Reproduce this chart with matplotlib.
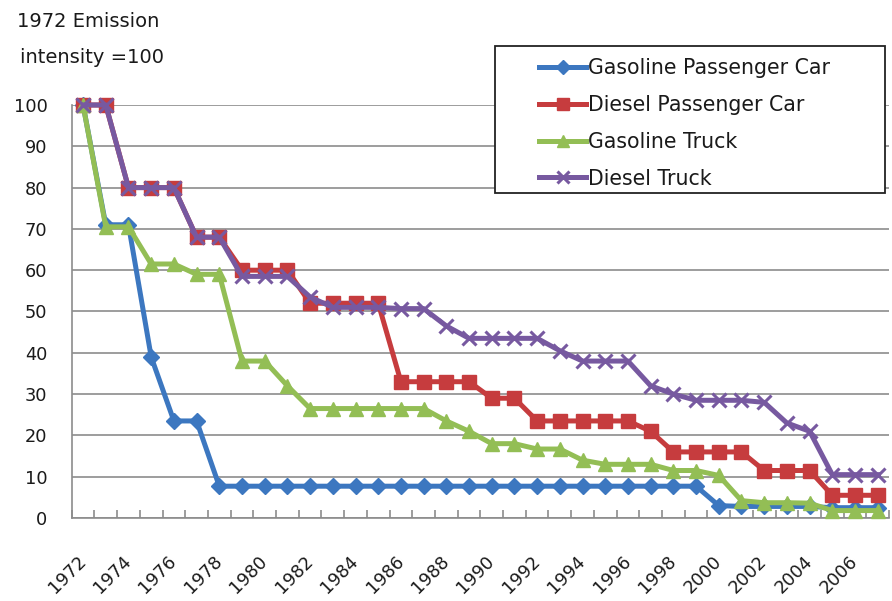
import matplotlib
matplotlib.use("Agg")
import matplotlib.pyplot as plt
from matplotlib.patches import Rectangle

plt.rcParams['font.family'] = ['DejaVu Sans']

years = list(range(1972, 2008))
tick_labels = [str(y) for y in range(1972, 2007, 2)]

gasoline_car = [100, 71, 71, 39, 23.5, 23.5, 7.7, 7.7, 7.7, 7.7,
                7.7, 7.7, 7.7, 7.7, 7.7, 7.7, 7.7, 7.7, 7.7, 7.7,
                7.7, 7.7, 7.7, 7.7, 7.7, 7.7, 7.7, 7.7, 3.0, 2.8,
                2.8, 2.8, 2.8, 2.5, 2.5, 2.5]
diesel_car = [100, 100, 80, 80, 80, 68, 68, 60, 60, 60,
              52, 52, 52, 52, 33, 33, 33, 33, 29, 29,
              23.5, 23.5, 23.5, 23.5, 23.5, 21, 16, 16, 16, 16,
              11.5, 11.5, 11.5, 5.5, 5.5, 5.5]
gasoline_truck = [100, 70.5, 70.5, 61.5, 61.5, 59, 59, 38, 38, 32,
                  26.5, 26.5, 26.5, 26.5, 26.5, 26.5, 23.5, 21, 18, 18,
                  16.7, 16.7, 14, 13, 13, 13, 11.5, 11.5, 10.3, 4.2,
                  3.7, 3.7, 3.6, 1.8, 1.8, 1.8]
diesel_truck = [100, 100, 80, 80, 80, 68, 68, 58.5, 58.5, 58.5,
                53.5, 51, 51, 51, 50.7, 50.7, 46.5, 43.5, 43.5, 43.5,
                43.5, 40.5, 38, 38, 38, 32, 30, 28.5, 28.5, 28.5,
                28, 23, 21, 10.5, 10.5, 10.5]

series_names = ["Gasoline Passenger Car", "Diesel Passenger Car",
                "Gasoline Truck", "Diesel Truck"]

fig = plt.figure(figsize=(8.92, 6.01), dpi=100)
ax = fig.add_axes([0.0804, 0.1381, 0.9163, 0.6872])

x = list(range(len(years)))
styles = [
    dict(color="#3C77C0", marker="D", markersize=8.5),
    dict(color="#C63C3E", marker="s", markersize=10),
    dict(color="#93BE55", marker="^", markersize=10),
    dict(color="#7759A0", marker="x", markersize=10, markeredgewidth=2.2),
]
data = [gasoline_car, diesel_car, gasoline_truck, diesel_truck]
handles = []
for name, vals, st in zip(series_names, data, styles):
    h, = ax.plot(x, vals, linewidth=3.6, label=name, clip_on=False, zorder=3, **st)
    handles.append(h)

ax.set_xlim(-0.5, len(years) - 0.5)
ax.set_ylim(0, 100)
ax.set_yticks(range(0, 101, 10))
ax.yaxis.grid(True, color="#8c8c8c", linewidth=1.2)
ax.set_axisbelow(True)
for s in ["top", "right"]:
    ax.spines[s].set_visible(False)
for s in ["left", "bottom"]:
    ax.spines[s].set_color("#8c8c8c")
    ax.spines[s].set_linewidth(1.2)

ax.tick_params(axis="y", length=0, pad=17.5, labelsize=12.8, labelcolor="#1a1a1a")
ax.set_xticks(range(0, len(years) - 1, 2))
ax.set_xticklabels(tick_labels, rotation=45, ha="right", va="center",
                   rotation_mode="anchor", fontsize=12.8, color="#1a1a1a")
ax.tick_params(axis="x", which="major", length=0, pad=29)
ax.set_xticks([i - 0.5 for i in range(len(years) + 1)], minor=True)
ax.tick_params(axis="x", which="minor", direction="in", length=6,
               color="#8c8c8c", width=1.2)

fig.text(17 / 892, 1 - 27 / 601, "1972 Emission", fontsize=14, color="#1a1a1a")
fig.text(20 / 892, 1 - 63 / 601, "intensity =100", fontsize=14, color="#1a1a1a")

rect = Rectangle((495 / 892, 1 - 193 / 601), 390 / 892, 147 / 601,
                 transform=fig.transFigure, facecolor="white",
                 edgecolor="#222222", linewidth=1.3, zorder=10, clip_on=False)
ax.add_patch(rect)
leg = ax.legend(handles=handles, loc="upper left",
                bbox_to_anchor=(539 / 892, 1 - 58 / 601),
                bbox_transform=fig.transFigure, frameon=False,
                fontsize=14.8, handlelength=2.3, handletextpad=0.1,
                labelspacing=0.82, borderpad=0, borderaxespad=0,
                markerscale=0.8)
leg.set_zorder(11)
for t in leg.get_texts():
    t.set_color("#1a1a1a")

fig.savefig("out.png", dpi=100)
